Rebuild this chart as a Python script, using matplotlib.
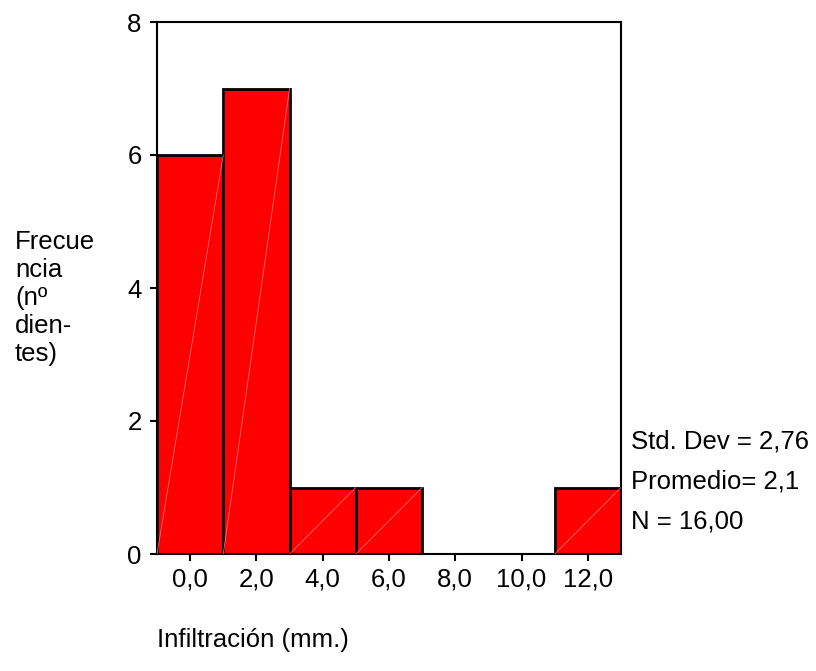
import matplotlib.pyplot as plt

plt.rcParams['font.family'] = ['Liberation Sans', 'DejaVu Sans']

# histogram bins (centres) and counts
centros = [0, 2, 4, 6, 8, 10, 12]
frecuencias = [6, 7, 1, 1, 0, 0, 1]
etiquetas_x = ['0,0', '2,0', '4,0', '6,0', '8,0', '10,0', '12,0']
ticks_y = [0, 2, 4, 6, 8]
stats = ['Std. Dev = 2,76', 'Promedio= 2,1', 'N = 16,00']

fig = plt.figure(figsize=(8.16, 6.71), dpi=100)
ax = fig.add_axes([157 / 816, 117 / 671, 464 / 816, 532 / 671])

ax.bar(centros, frecuencias, width=2, color='#ff0000', edgecolor='black',
       linewidth=2, zorder=2)
# faint diagonal seams seen inside the bars
for c, f in zip(centros, frecuencias):
    if f > 0:
        ax.plot([c - 1, c + 1], [0, f], color='#ff8080', lw=0.5, zorder=3)

ax.set_xlim(-1, 13)
ax.set_ylim(0, 8)
ax.set_xticks(centros)
ax.set_xticklabels(etiquetas_x)
ax.set_yticks(ticks_y)
for s in ax.spines.values():
    s.set_linewidth(1.5)
ax.tick_params(axis='both', labelsize=18.5, width=1.5, length=5, direction='out')
ax.tick_params(axis='x', pad=5)
ax.tick_params(axis='y', pad=6)

fig.text(15 / 816, 1 - 298 / 671, 'Frecue\nncia\n(nº\ndien-\ntes)', fontsize=18.5,
         ha='left', va='center', linespacing=1.22)
fig.text(157 / 816, 1 - 640 / 671, 'Infiltración (mm.)', fontsize=18.5,
         ha='left', va='center')
for i, t in enumerate(stats):
    fig.text(631 / 816, 1 - (442 + 40 * i) / 671, t, fontsize=18.5,
             ha='left', va='center')

fig.savefig('out.png', dpi=100)
